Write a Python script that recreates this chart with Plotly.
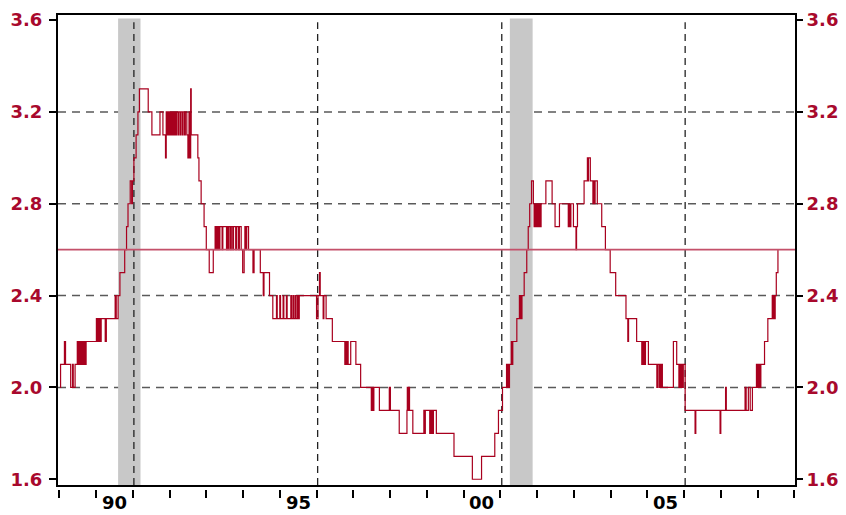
import plotly.graph_objects as go

# ---- data: (decimal year, value) change points of the weekly series ----
seg_1989_1992 = [
    (1989.02, 2.0), (1989.035, 2.1), (1989.14, 2.2), (1989.17, 2.1), (1989.31, 2.0),
    (1989.36, 2.1), (1989.38, 2.0), (1989.43, 2.1), (1989.49, 2.2), (1989.52, 2.1),
    (1989.55, 2.2), (1989.58, 2.1), (1989.61, 2.2), (1989.64, 2.1), (1989.67, 2.2),
    (1989.70, 2.1), (1989.73, 2.2), (1990.01, 2.3), (1990.04, 2.2), (1990.06, 2.3),
    (1990.08, 2.2), (1990.10, 2.3), (1990.12, 2.2), (1990.14, 2.3), (1990.25, 2.2),
    (1990.28, 2.3), (1990.52, 2.4), (1990.55, 2.3), (1990.60, 2.4), (1990.65, 2.5),
    (1990.78, 2.6), (1990.83, 2.7), (1990.87, 2.8), (1990.93, 2.9), (1990.97, 2.8),
    (1990.99, 2.9), (1991.03, 3.0), (1991.09, 3.1), (1991.14, 3.2), (1991.18, 3.3),
    (1991.42, 3.2), (1991.52, 3.1), (1991.74, 3.2), (1991.82, 3.1), (1991.89, 3.0),
    (1991.91, 3.2), (1991.93, 3.1), (1991.95, 3.2), (1991.97, 3.1), (1991.99, 3.2),
    (1992.02, 3.1), (1992.04, 3.2), (1992.07, 3.1), (1992.09, 3.2), (1992.12, 3.1),
    (1992.14, 3.2), (1992.17, 3.1), (1992.19, 3.2), (1992.23, 3.1), (1992.25, 3.2),
    (1992.29, 3.1), (1992.31, 3.2), (1992.35, 3.1), (1992.37, 3.2), (1992.41, 3.1),
    (1992.43, 3.2), (1992.47, 3.1), (1992.50, 3.0), (1992.53, 3.2), (1992.56, 3.0),
    (1992.575, 3.3), (1992.59, 3.1), (1992.69, 3.1), (1992.77, 3.0), (1992.80, 2.9),
    (1992.86, 2.8), (1992.94, 2.7),
]
seg_1993_1996 = [
    (1993.00, 2.6), (1993.08, 2.5), (1993.19, 2.6), (1993.24, 2.7), (1993.26, 2.6),
    (1993.28, 2.7), (1993.30, 2.6), (1993.32, 2.7), (1993.35, 2.6), (1993.37, 2.7),
    (1993.43, 2.6), (1993.45, 2.7), (1993.55, 2.6), (1993.57, 2.7), (1993.60, 2.6),
    (1993.62, 2.7), (1993.66, 2.6), (1993.68, 2.7), (1993.72, 2.6), (1993.74, 2.7),
    (1993.80, 2.6), (1993.83, 2.7), (1993.88, 2.6), (1993.90, 2.7), (1993.95, 2.6),
    (1993.99, 2.5), (1994.03, 2.6), (1994.05, 2.7), (1994.08, 2.6), (1994.10, 2.7),
    (1994.15, 2.6), (1994.27, 2.5), (1994.30, 2.6), (1994.47, 2.5), (1994.55, 2.4),
    (1994.57, 2.5), (1994.72, 2.4), (1994.81, 2.3), (1994.91, 2.4), (1994.93, 2.3),
    (1995.00, 2.4), (1995.02, 2.3), (1995.09, 2.4), (1995.11, 2.3), (1995.18, 2.4),
    (1995.20, 2.3), (1995.30, 2.4), (1995.32, 2.3), (1995.36, 2.4), (1995.38, 2.3),
    (1995.42, 2.4), (1995.44, 2.3), (1995.48, 2.4), (1995.50, 2.3), (1995.53, 2.4),
    (1996.00, 2.3), (1996.04, 2.4), (1996.08, 2.5), (1996.10, 2.4), (1996.18, 2.3),
    (1996.20, 2.4), (1996.26, 2.3),
]
seg_1996_2001 = [
    (1996.43, 2.2), (1996.77, 2.1), (1996.79, 2.2), (1996.81, 2.1), (1996.84, 2.2),
    (1996.86, 2.1), (1996.93, 2.2), (1997.07, 2.1), (1997.20, 2.0), (1997.49, 1.9),
    (1997.51, 2.0), (1997.53, 1.9), (1997.56, 2.0), (1997.71, 1.9), (1997.98, 2.0),
    (1998.01, 1.9), (1998.25, 1.8), (1998.46, 1.9), (1998.47, 2.0), (1998.49, 1.9),
    (1998.50, 2.0), (1998.53, 1.9), (1998.62, 1.8), (1998.92, 1.9), (1998.94, 1.8),
    (1998.96, 1.9), (1999.08, 1.8), (1999.10, 1.9), (1999.12, 1.8), (1999.14, 1.9),
    (1999.16, 1.8), (1999.18, 1.9), (1999.26, 1.8), (1999.74, 1.7), (2000.24, 1.6),
    (2000.49, 1.7), (2000.85, 1.8), (2000.95, 1.9), (2001.06, 2.0),
]
seg_2001_2004 = [
    (2001.17, 2.1), (2001.19, 2.0), (2001.21, 2.1), (2001.23, 2.0), (2001.25, 2.1),
    (2001.30, 2.2), (2001.32, 2.1), (2001.34, 2.2), (2001.45, 2.3), (2001.52, 2.4),
    (2001.53, 2.3), (2001.55, 2.4), (2001.56, 2.3), (2001.59, 2.4), (2001.65, 2.5),
    (2001.72, 2.6), (2001.76, 2.7), (2001.80, 2.8), (2001.85, 2.9), (2001.90, 2.8),
    (2001.92, 2.7), (2001.94, 2.8), (2001.96, 2.7), (2001.98, 2.8), (2002.00, 2.7),
    (2002.02, 2.8), (2002.04, 2.7), (2002.06, 2.8), (2002.09, 2.7), (2002.11, 2.8),
    (2002.24, 2.9), (2002.41, 2.8), (2002.49, 2.7), (2002.61, 2.8), (2002.85, 2.7),
    (2002.88, 2.8), (2002.90, 2.7), (2002.92, 2.8), (2002.99, 2.7), (2003.06, 2.6),
    (2003.075, 2.7), (2003.10, 2.8), (2003.28, 2.9), (2003.37, 3.0), (2003.39, 2.9),
    (2003.40, 3.0), (2003.45, 2.9), (2003.52, 2.8), (2003.53, 2.9), (2003.56, 2.8),
    (2003.58, 2.9), (2003.64, 2.8), (2003.76, 2.7), (2003.86, 2.6), (2003.99, 2.5),
    (2004.14, 2.4), (2004.42, 2.3), (2004.47, 2.2), (2004.49, 2.3),
]
seg_2004_2008 = [
    (2004.71, 2.2), (2004.85, 2.1), (2004.87, 2.2), (2004.89, 2.1), (2004.91, 2.2),
    (2004.93, 2.1), (2004.95, 2.2), (2005.03, 2.1), (2005.26, 2.0), (2005.28, 2.1),
    (2005.32, 2.0), (2005.34, 2.1), (2005.37, 2.0), (2005.39, 2.1), (2005.41, 2.0),
    (2005.71, 2.2), (2005.80, 2.1), (2005.86, 2.0), (2005.88, 2.1), (2005.90, 2.0),
    (2005.93, 2.1), (2005.96, 2.0), (2005.98, 2.1), (2006.03, 1.9), (2006.30, 1.8),
    (2006.32, 1.9), (2006.98, 1.8), (2007.00, 1.9), (2007.13, 2.0), (2007.15, 1.9),
    (2007.66, 2.0), (2007.69, 1.9), (2007.75, 2.0), (2007.80, 1.9), (2007.86, 2.0),
    (2007.97, 2.1), (2007.99, 2.0), (2008.01, 2.1), (2008.03, 2.0), (2008.05, 2.1),
    (2008.07, 2.0), (2008.09, 2.1), (2008.19, 2.2), (2008.28, 2.3), (2008.40, 2.4),
    (2008.42, 2.3), (2008.44, 2.4), (2008.46, 2.3), (2008.48, 2.4), (2008.51, 2.5),
    (2008.555, 2.6),
]
reference_level = 2.6
recessions = [(1990.60, 1991.21), (2001.26, 2001.88)]
vline_years = [1991.03, 1996.03, 2001.04, 2006.03]
hgrid_values = [2.0, 2.4, 2.8, 3.2]
ytick_vals = [1.6, 2.0, 2.4, 2.8, 3.2, 3.6]
ytick_text = ["1.6", "2.0", "2.4", "2.8", "3.2", "3.6"]
year_ticks = list(range(1989, 2010))
label_pos = [1990.5, 1995.5, 2000.5, 2005.5]
label_text = ["90", "95", "00", "05"]

# ---- build figure ----
points = seg_1989_1992 + seg_1993_1996 + seg_1996_2001 + seg_2001_2004 + seg_2004_2008
xs = [p[0] for p in points]
ys = [p[1] for p in points]

XR = [1988.965, 2009.019]
YR = [1.575, 3.622]
RED = "#a8092d"
LINE = "#a8001e"
FONT = "DejaVu Sans, Verdana, sans-serif"
FS = 18

fig = go.Figure()
fig.add_trace(go.Scatter(x=xs, y=ys, mode="lines", line=dict(color=LINE, width=1.2, shape="hv"),
                         hoverinfo="skip", showlegend=False))
# dummy traces so overlay axes are drawn
fig.add_trace(go.Scatter(x=[None], y=[None], xaxis="x2", yaxis="y", showlegend=False, hoverinfo="skip"))
fig.add_trace(go.Scatter(x=[None], y=[None], xaxis="x", yaxis="y2", showlegend=False, hoverinfo="skip"))

shapes = []
for a, b in recessions:
    shapes.append(dict(type="rect", xref="x", yref="y", x0=a, x1=b, y0=YR[0], y1=3.607,
                       fillcolor="#c8c8c8", line=dict(width=0), layer="below"))
for v in hgrid_values:
    shapes.append(dict(type="line", xref="paper", yref="y", x0=0, x1=1, y0=v, y1=v,
                       line=dict(color="#5a5a5a", width=1.5, dash="8px,6px"), layer="below"))
for xv in vline_years:
    shapes.append(dict(type="line", xref="x", yref="y", x0=xv, x1=xv, y0=YR[0], y1=3.59,
                       line=dict(color="#222222", width=1.3, dash="7px,5px"), layer="below"))
shapes.append(dict(type="line", xref="paper", yref="y", x0=0, x1=1, y0=reference_level, y1=reference_level,
                   line=dict(color="#c4506a", width=1.6), layer="above"))

tickfont = dict(family=FONT, size=FS, color=RED, weight="bold")
annotations = [dict(x=p, y=0.0215, xref="x", yref="paper", text=t, showarrow=False, yanchor="top",
                    borderpad=0, font=dict(family=FONT, size=FS, color="black", weight="bold"))
               for p, t in zip(label_pos, label_text)]

# the page body adds an 8px offset; the figure is sized/margined to compensate
fig.update_layout(
    width=838, height=507,
    margin=dict(l=50, r=51, t=7, b=14, autoexpand=False),
    paper_bgcolor="white", plot_bgcolor="white",
    shapes=shapes, annotations=annotations,
    xaxis=dict(range=XR, showline=True, linewidth=2, linecolor="black", mirror=True, automargin=False,
               ticks="", showticklabels=False, showgrid=False, zeroline=False),
    xaxis2=dict(range=XR, overlaying="x", anchor="free", position=0.0247, automargin=False,
                tickmode="array", tickvals=year_ticks, ticks="outside", ticklen=8, tickwidth=2,
                tickcolor="black", showticklabels=False, showline=False, showgrid=False, zeroline=False),
    yaxis=dict(range=YR, domain=[0.0329, 1], tickmode="array", tickvals=ytick_vals, ticktext=ytick_text,
               ticks="outside", ticklen=7, tickwidth=2, tickcolor="black", tickfont=tickfont, automargin=False,
               ticklabelstandoff=3,
               showline=True, linewidth=2, linecolor="black", mirror=True, showgrid=False, zeroline=False),
    yaxis2=dict(range=YR, overlaying="y", side="right", anchor="x", tickmode="array", automargin=False,
                tickvals=ytick_vals, ticktext=ytick_text, ticks="outside", ticklen=7, tickwidth=2,
                ticklabelstandoff=0,
                tickcolor="black", tickfont=tickfont, showline=False, showgrid=False, zeroline=False),
)

fig.write_html("out.html")
